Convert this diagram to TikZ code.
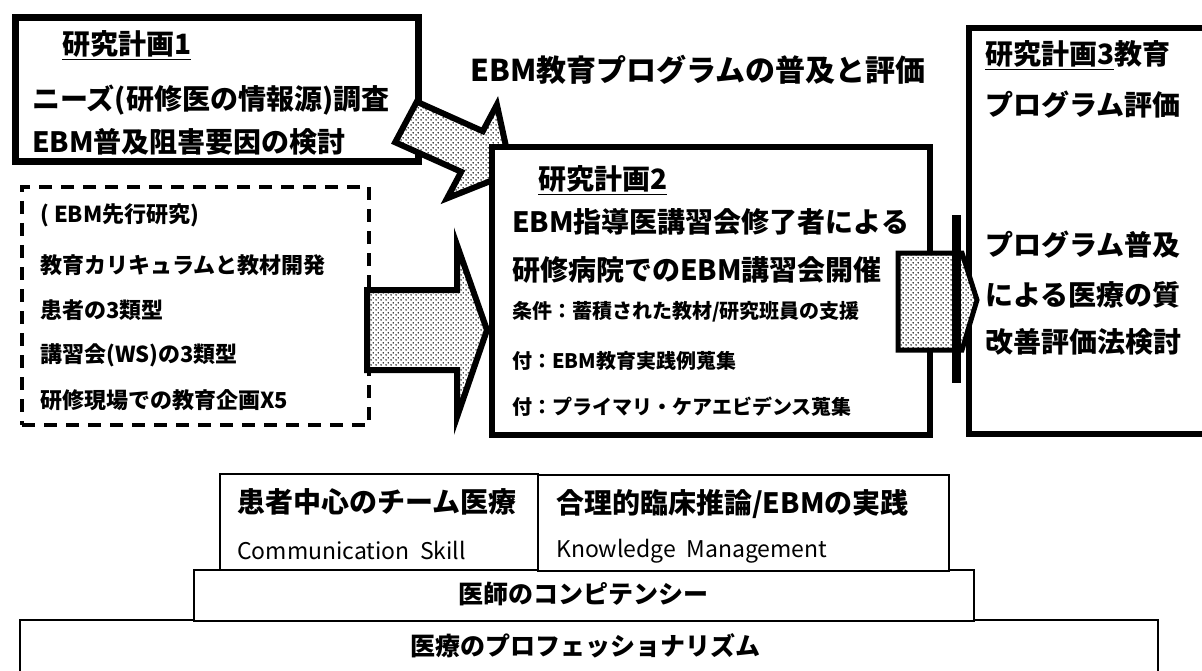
\documentclass[tikz,border=0pt]{standalone}
\usepackage{fontspec}
\setmainfont{Noto Sans CJK JP}
\usetikzlibrary{patterns}
\pgfdeclarepatternformonly{scandots}{\pgfpointorigin}{\pgfpoint{5pt}{5pt}}{\pgfpoint{5pt}{5pt}}{%
  \pgfpathcircle{\pgfpoint{1.25pt}{1.25pt}}{0.9pt}%
  \pgfpathcircle{\pgfpoint{3.75pt}{3.75pt}}{0.9pt}%
  \pgfusepath{fill}}
\begin{document}
\begin{tikzpicture}[x=1pt,y=-1pt,
  L/.style={font=\fontsize{28}{28}\selectfont\bfseries, anchor=west, inner sep=0pt},
  T/.style={font=\fontsize{30}{30}\selectfont\bfseries, inner sep=0pt},
  M/.style={font=\fontsize{22}{22}\selectfont\bfseries, anchor=west, inner sep=0pt},
  S/.style={font=\fontsize{20}{20}\selectfont\bfseries, anchor=west, inner sep=0pt},
  E/.style={font=\fontsize{23}{23}\selectfont, anchor=west, inner sep=0pt},
  C/.style={font=\fontsize{25}{25}\selectfont\bfseries, inner sep=0pt},
  frame/.style={draw, line width=6pt, fill=white, inner sep=0pt, anchor=north west},
  dashbox/.style={draw, line width=4pt, dash pattern=on 13pt off 9pt, inner sep=0pt, anchor=north west},
  thinbox/.style={draw, line width=2pt, fill=white, inner sep=0pt, anchor=north west},
  blockarrow/.style={draw, line width=6pt, line join=miter, preaction={fill=white}, pattern=scandots},
]
\useasboundingbox (0,0) rectangle (1202,671);

% dashed box (prior work)
\node[dashbox, minimum width=347pt, minimum height=238pt] (prior) at (20,185) {};

% box 1
\node[frame, line width=7pt, minimum width=403pt, minimum height=144pt] (plan1) at (11.5,14.5) {};

% diagonal arrow plan1 -> plan2
\draw[blockarrow] (395.2,142.3) -- (416.8,101.7) -- (482.8,131.2) -- (496.9,104.7)
   -- (511.7,172.6) -- (447.1,198.3) -- (461.2,171.8) -- cycle;

% big arrow prior -> plan2
\draw[blockarrow] (367,290) -- (457,290) -- (457,245) -- (487,330) -- (457,417)
   -- (457,370) -- (367,370) -- cycle;

% box 2
\node[frame, minimum width=438pt, minimum height=288pt] (plan2) at (489,144) {};

% box 3 (right side runs off the page)
\node[frame, minimum width=280pt, minimum height=406pt] (plan3) at (966,25) {};

% arrow plan2 -> plan3
\draw[blockarrow, line width=5pt] (898,253) -- (962,253) -- (977,300) -- (962,350)
   -- (898,350) -- cycle;
\fill (952,215) rectangle (961,383);

% title
\node[T] (title) at (698,70) {EBM教育プログラムの普及と評価};

% texts box 1
\node[L] (p1a) at (62,45) {\underline{研究計画1}};
\node[L] (p1b) at (32,100) {ニーズ(研修医の情報源)調査};
\node[L] (p1c) at (32,142) {EBM普及阻害要因の検討};

% texts dashed box
\node[M] (pr1) at (40,215) {( EBM先行研究)};
\node[M] (pr2) at (40,265) {教育カリキュラムと教材開発};
\node[M] (pr3) at (40,310) {患者の3類型};
\node[M] (pr4) at (40,355) {講習会(WS)の3類型};
\node[M] (pr5) at (40,400) {研修現場での教育企画X5};

% texts box 2
\node[L] (p2a) at (538,180) {\underline{研究計画2}};
\node[L] (p2b) at (512,222) {EBM指導医講習会修了者による};
\node[L] (p2c) at (512,270) {研修病院でのEBM講習会開催};
\node[S] (p2d) at (512,312) {条件：蓄積された教材/研究班員の支援};
\node[S] (p2e) at (512,361) {付：EBM教育実践例蒐集};
\node[S] (p2f) at (512,407) {付：プライマリ・ケアエビデンス蒐集};

% texts box 3
\node[L] (p3a) at (985,55) {\underline{研究計画3}教育};
\node[L] (p3b) at (985,105) {プログラム評価};
\node[L] (p3c) at (985,245) {プログラム普及};
\node[L] (p3d) at (985,295) {による医療の質};
\node[L] (p3e) at (985,342) {改善評価法検討};

% bottom stack
\draw[line width=2pt] (20,690) -- (20,620) -- (1158,620) -- (1158,690);
\node[thinbox, minimum width=780pt, minimum height=51pt] (comp) at (193,569) {};
\node[thinbox, minimum width=318pt, minimum height=96pt] (team) at (219,473) {};
\node[thinbox, minimum width=411pt, minimum height=96pt] (ebm) at (537,474) {};

\node[L] (t1) at (237,502) {患者中心のチーム医療};
\node[E] (t2) at (237,550) {Communication\ \ Skill};
\node[L] (t3) at (556,504) {合理的臨床推論/EBMの実践};
\node[E] (t4) at (556,551) {Knowledge\ \ Management};
\node[C] (t5) at (583,594) {医師のコンピテンシー};
\node[C] (t6) at (585,646) {医療のプロフェッショナリズム};
\end{tikzpicture}
\end{document}
